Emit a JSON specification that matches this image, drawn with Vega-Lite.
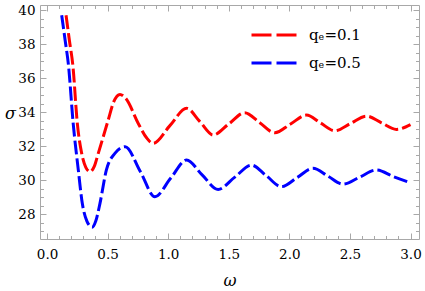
{
  "$schema": "https://vega.github.io/schema/vega-lite/v6.json",
  "width": 379,
  "height": 234,
  "autosize": "none",
  "padding": {"left": 40, "top": 5, "right": 6, "bottom": 52},
  "background": "white",
  "config": {
    "view": {"stroke": "#a8a8a8", "strokeWidth": 1},
    "axis": {"grid": false, "domain": false, "tickColor": "#a8a8a8", "tickWidth": 1, "labelFont": "DejaVu Serif", "labelFontSize": 13.5, "labelColor": "black", "titleFont": "DejaVu Serif", "titleFontStyle": "italic", "titleFontWeight": "normal", "titleFontSize": 16, "titleColor": "black"}
  },
  "data": {"values": [
    {"w": 0.157, "s": 39.7, "series": "qₑ=0.1"},
    {"w": 0.185, "s": 38.2, "series": "qₑ=0.1"},
    {"w": 0.213, "s": 36.76, "series": "qₑ=0.1"},
    {"w": 0.25, "s": 33.33, "series": "qₑ=0.1"},
    {"w": 0.286, "s": 31.57, "series": "qₑ=0.1"},
    {"w": 0.32, "s": 30.75, "series": "qₑ=0.1"},
    {"w": 0.355, "s": 30.49, "series": "qₑ=0.1"},
    {"w": 0.39, "s": 30.8, "series": "qₑ=0.1"},
    {"w": 0.423, "s": 31.57, "series": "qₑ=0.1"},
    {"w": 0.505, "s": 33.53, "series": "qₑ=0.1"},
    {"w": 0.55, "s": 34.6, "series": "qₑ=0.1"},
    {"w": 0.602, "s": 35.04, "series": "qₑ=0.1"},
    {"w": 0.65, "s": 34.8, "series": "qₑ=0.1"},
    {"w": 0.753, "s": 33.33, "series": "qₑ=0.1"},
    {"w": 0.82, "s": 32.5, "series": "qₑ=0.1"},
    {"w": 0.876, "s": 32.16, "series": "qₑ=0.1"},
    {"w": 1.014, "s": 33.2, "series": "qₑ=0.1"},
    {"w": 1.152, "s": 34.22, "series": "qₑ=0.1"},
    {"w": 1.26, "s": 33.45, "series": "qₑ=0.1"},
    {"w": 1.371, "s": 32.65, "series": "qₑ=0.1"},
    {"w": 1.5, "s": 33.3, "series": "qₑ=0.1"},
    {"w": 1.632, "s": 33.96, "series": "qₑ=0.1"},
    {"w": 1.756, "s": 33.37, "series": "qₑ=0.1"},
    {"w": 1.88, "s": 32.78, "series": "qₑ=0.1"},
    {"w": 2.01, "s": 33.3, "series": "qₑ=0.1"},
    {"w": 2.141, "s": 33.82, "series": "qₑ=0.1"},
    {"w": 2.257, "s": 33.36, "series": "qₑ=0.1"},
    {"w": 2.374, "s": 32.9, "series": "qₑ=0.1"},
    {"w": 2.505, "s": 33.33, "series": "qₑ=0.1"},
    {"w": 2.636, "s": 33.76, "series": "qₑ=0.1"},
    {"w": 2.76, "s": 33.37, "series": "qₑ=0.1"},
    {"w": 2.883, "s": 32.98, "series": "qₑ=0.1"},
    {"w": 3.0, "s": 33.26, "series": "qₑ=0.1"},
    {"w": 0.121, "s": 39.7, "series": "qₑ=0.5"},
    {"w": 0.15, "s": 38.2, "series": "qₑ=0.5"},
    {"w": 0.177, "s": 36.76, "series": "qₑ=0.5"},
    {"w": 0.215, "s": 33.4, "series": "qₑ=0.5"},
    {"w": 0.258, "s": 30.6, "series": "qₑ=0.5"},
    {"w": 0.291, "s": 28.63, "series": "qₑ=0.5"},
    {"w": 0.328, "s": 27.6, "series": "qₑ=0.5"},
    {"w": 0.372, "s": 27.22, "series": "qₑ=0.5"},
    {"w": 0.403, "s": 27.6, "series": "qₑ=0.5"},
    {"w": 0.437, "s": 28.63, "series": "qₑ=0.5"},
    {"w": 0.49, "s": 30.6, "series": "qₑ=0.5"},
    {"w": 0.56, "s": 31.57, "series": "qₑ=0.5"},
    {"w": 0.645, "s": 31.96, "series": "qₑ=0.5"},
    {"w": 0.77, "s": 30.5, "series": "qₑ=0.5"},
    {"w": 0.89, "s": 29.02, "series": "qₑ=0.5"},
    {"w": 1.02, "s": 30.1, "series": "qₑ=0.5"},
    {"w": 1.152, "s": 31.18, "series": "qₑ=0.5"},
    {"w": 1.28, "s": 30.3, "series": "qₑ=0.5"},
    {"w": 1.412, "s": 29.45, "series": "qₑ=0.5"},
    {"w": 1.55, "s": 30.17, "series": "qₑ=0.5"},
    {"w": 1.687, "s": 30.88, "series": "qₑ=0.5"},
    {"w": 1.81, "s": 30.25, "series": "qₑ=0.5"},
    {"w": 1.935, "s": 29.61, "series": "qₑ=0.5"},
    {"w": 2.065, "s": 30.15, "series": "qₑ=0.5"},
    {"w": 2.195, "s": 30.69, "series": "qₑ=0.5"},
    {"w": 2.32, "s": 30.22, "series": "qₑ=0.5"},
    {"w": 2.443, "s": 29.76, "series": "qₑ=0.5"},
    {"w": 2.58, "s": 30.17, "series": "qₑ=0.5"},
    {"w": 2.718, "s": 30.59, "series": "qₑ=0.5"},
    {"w": 2.86, "s": 30.2, "series": "qₑ=0.5"},
    {"w": 3.0, "s": 29.84, "series": "qₑ=0.5"}
  ]},
  "layer": [
    {
      "mark": {"type": "line", "interpolate": "monotone", "strokeWidth": 3, "strokeDash": [14, 4]},
      "encoding": {
        "x": {"field": "w", "type": "quantitative", "scale": {"domain": [-0.058, 3.07], "nice": false, "zero": false},
              "axis": {"orient": "bottom", "title": "ω", "values": [0, 0.5, 1, 1.5, 2, 2.5, 3], "format": ".1f", "tickSize": -6, "labelPadding": 14, "labelFont": "DejaVu Serif", "labelFontSize": 13.5, "labelColor": "black", "titleFont": "DejaVu Serif", "titleAnchor": "middle", "titleBaseline": "middle", "titleY": 41}},
        "y": {"field": "s", "type": "quantitative", "scale": {"domain": [26.53, 40.3], "nice": false, "zero": false},
              "axis": {"orient": "left", "title": "σ", "values": [28, 30, 32, 34, 36, 38, 40], "tickSize": -6, "labelPadding": 11, "labelFont": "DejaVu Serif", "labelFontSize": 13.5, "labelColor": "black", "titleFont": "DejaVu Serif", "titleAngle": 0, "titleBaseline": "middle", "titleAlign": "center", "titleX": -30, "titleY": 108}},
        "color": {"field": "series", "type": "nominal",
                  "scale": {"domain": ["qₑ=0.1", "qₑ=0.5"], "range": ["#ff0000", "#0000ff"]},
                  "legend": {"orient": "none", "legendX": 210, "legendY": 22, "title": null, "symbolType": "stroke", "symbolStrokeWidth": 3, "symbolDash": [20, 5], "symbolSize": 2116, "clipHeight": 16, "labelFont": "DejaVu Serif", "labelFontSize": 15, "labelColor": "black", "labelOffset": 10, "rowPadding": 12}}
      }
    },
    {
      "mark": {"type": "point", "opacity": 0},
      "encoding": {
        "x": {"field": "w", "type": "quantitative", "axis": {"orient": "top", "title": null, "labels": false, "values": [0, 0.5, 1, 1.5, 2, 2.5, 3], "tickSize": -6}},
        "y": {"field": "s", "type": "quantitative", "axis": {"orient": "right", "title": null, "labels": false, "values": [28, 30, 32, 34, 36, 38, 40], "tickSize": -6}}
      }
    },
    {
      "mark": {"type": "point", "opacity": 0},
      "encoding": {
        "x": {"field": "w", "type": "quantitative", "axis": {"orient": "bottom", "title": null, "labels": false, "values": [0.1, 0.2, 0.3, 0.4, 0.6, 0.7, 0.8, 0.9, 1.1, 1.2, 1.3, 1.4, 1.6, 1.7, 1.8, 1.9, 2.1, 2.2, 2.3, 2.4, 2.6, 2.7, 2.8, 2.9], "tickSize": -3.5}},
        "y": {"field": "s", "type": "quantitative", "axis": {"orient": "left", "title": null, "labels": false, "values": [27, 27.5, 28.5, 29, 29.5, 30.5, 31, 31.5, 32.5, 33, 33.5, 34.5, 35, 35.5, 36.5, 37, 37.5, 38.5, 39, 39.5], "tickSize": -3.5}}
      }
    },
    {
      "mark": {"type": "point", "opacity": 0},
      "encoding": {
        "x": {"field": "w", "type": "quantitative", "axis": {"orient": "top", "title": null, "labels": false, "values": [0.1, 0.2, 0.3, 0.4, 0.6, 0.7, 0.8, 0.9, 1.1, 1.2, 1.3, 1.4, 1.6, 1.7, 1.8, 1.9, 2.1, 2.2, 2.3, 2.4, 2.6, 2.7, 2.8, 2.9], "tickSize": -3.5}},
        "y": {"field": "s", "type": "quantitative", "axis": {"orient": "right", "title": null, "labels": false, "values": [27, 27.5, 28.5, 29, 29.5, 30.5, 31, 31.5, 32.5, 33, 33.5, 34.5, 35, 35.5, 36.5, 37, 37.5, 38.5, 39, 39.5], "tickSize": -3.5}}
      }
    }
  ]
}
